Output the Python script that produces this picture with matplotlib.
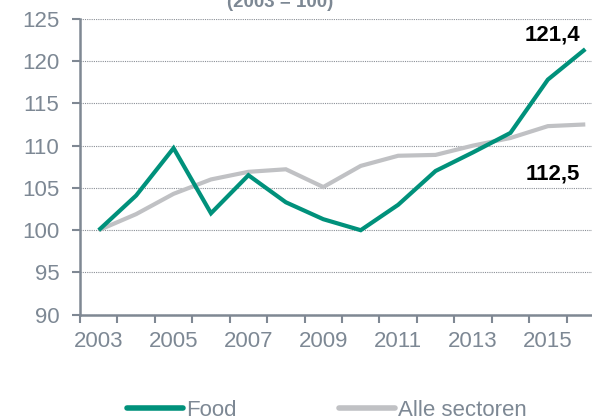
import matplotlib
matplotlib.use("Agg")
import matplotlib.pyplot as plt
import numpy as np
from matplotlib.lines import Line2D

years = [2003, 2004, 2005, 2006, 2007, 2008, 2009, 2010, 2011, 2012, 2013, 2014, 2015, 2016]
food = [100.0, 104.1, 109.7, 102.0, 106.5, 103.3, 101.3, 100.0, 103.0, 107.0, 109.2, 111.5, 117.8, 121.4]
alle = [100.0, 101.9, 104.3, 106.0, 106.9, 107.2, 105.1, 107.6, 108.8, 108.9, 110.0, 110.9, 112.3, 112.5]
tick_years = [2003, 2005, 2007, 2009, 2011, 2013, 2015]
yticks = [90, 95, 100, 105, 110, 115, 120, 125]

plt.rcParams['font.family'] = ['Liberation Sans', 'DejaVu Sans']
teal = '#00917B'
grey = '#C0C1C4'
txt = '#7D8894'
axc = '#7F8893'

fig = plt.figure(figsize=(5.92, 4.20), dpi=100)
ax = fig.add_axes([80/592, 105.2/420, 524/592, 296.1/420])

x = np.arange(len(years))
ax.plot(x, alle, color=grey, lw=3.0, solid_capstyle='butt', solid_joinstyle='miter', zorder=3)
ax.plot(x, food, color=teal, lw=3.0, solid_capstyle='butt', solid_joinstyle='miter', zorder=4)

ax.set_xlim(-0.5, len(years) - 0.5)
ax.set_ylim(90, 125)
ax.set_yticks(yticks)
ax.set_yticklabels([str(v) for v in yticks], fontsize=16, color=txt)
ax.yaxis.grid(True, color='#8A8F96', linestyle=(0, (1, 1)), lw=0.8)
ax.set_axisbelow(True)

ax.set_xticks([years.index(y) for y in tick_years])
ax.set_xticklabels([str(y) for y in tick_years], fontsize=16, color=txt)
ax.set_xticks(np.arange(len(years) + 1) - 0.5, minor=True)
ax.tick_params(axis='x', which='major', length=0, pad=12)
ax.tick_params(axis='x', which='minor', length=6, width=1.5, color=axc, direction='out')
ax.tick_params(axis='y', length=6, width=1.5, color=axc, direction='out', pad=9)

for s in ['top', 'right']:
    ax.spines[s].set_visible(False)
for s in ['left', 'bottom']:
    ax.spines[s].set_color(axc)
    ax.spines[s].set_linewidth(1.8)

ax.text(x[-1] - 0.14, 123.1, '121,4', ha='right', va='center', fontsize=16, fontweight='bold', color='black')
ax.text(x[-1] - 0.14, 106.6, '112,5', ha='right', va='center', fontsize=16, fontweight='bold', color='black')

fig.text(280/592, (420 - 7)/420, '(2003 = 100)', ha='center', va='baseline', fontsize=13.5, fontweight='bold', color=txt)

h1 = Line2D([], [], color=teal, lw=4, solid_capstyle='round')
h2 = Line2D([], [], color=grey, lw=4, solid_capstyle='round')
fig.legend([h1, h2], ['Food', 'Alle sectoren'], loc='center', bbox_to_anchor=(327/592, 1 - 410/420),
           ncol=2, frameon=False, fontsize=16, labelcolor=txt, handlelength=2.5, handletextpad=0.15,
           columnspacing=4.6)

fig.savefig('out.png', dpi=100)
